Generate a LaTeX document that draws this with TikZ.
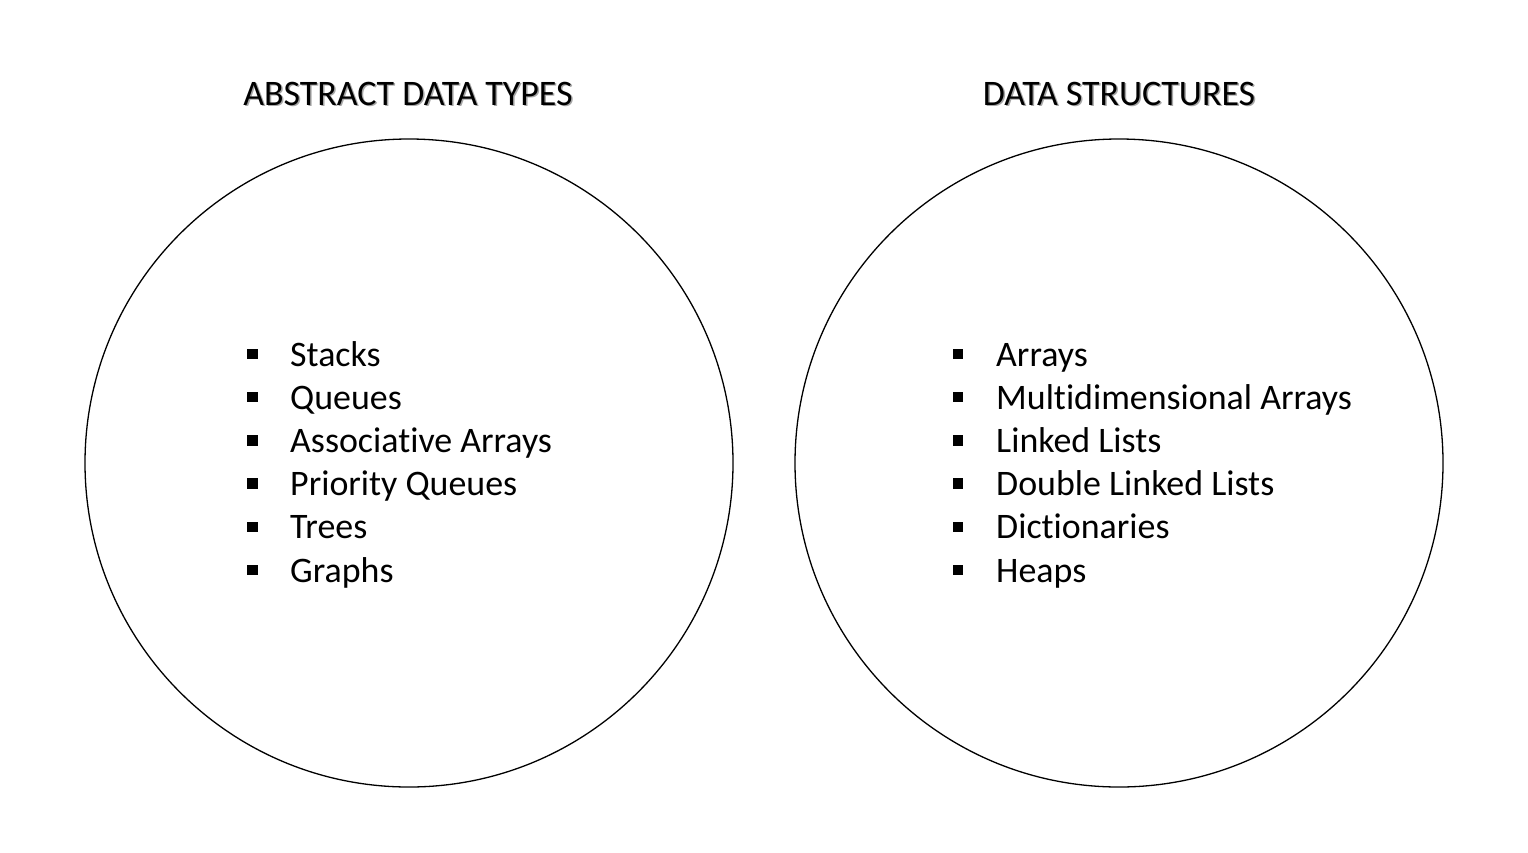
\documentclass[tikz,border=0pt]{standalone}
\usepackage{fontspec}
\setmainfont[Ligatures=NoCommon]{Carlito}
\begin{document}
\begin{tikzpicture}[x=1pt,y=-1pt,
  setcircle/.style={draw=black,line width=1.3pt,circle,minimum size=648pt,inner sep=0pt},
  title/.style={font=\fontsize{35.9}{40}\selectfont,anchor=base,inner sep=0pt},
  titleshadow/.style={title,text=black!35},
  item/.style={font=\fontsize{35.9}{42}\selectfont,anchor=base west,inner sep=0pt},
  bullet/.style={fill=black,draw=none,rectangle,minimum size=10.5pt,inner sep=0pt}]
  \useasboundingbox (0,0) rectangle (1528,852);

  % the two sets
  \node[setcircle] (adt) at (409,463) {};
  \node[setcircle] (ds) at (1119,463) {};

  % headings with a soft drop shadow
  \node[titleshadow] (adtshadow) at (409.5,106.5) {ABSTRACT DATA TYPES};
  \node[title] (adttitle) at (408,105) {ABSTRACT DATA TYPES};
  \node[titleshadow] (dsshadow) at (1120.5,106.5) {DATA STRUCTURES};
  \node[title] (dstitle) at (1119,105) {DATA STRUCTURES};

  % bulleted lists
  \foreach \txt [count=\i] in {Stacks,Queues,Associative Arrays,Priority Queues,Trees,Graphs} {
    \node[bullet] (adtb\i) at (252.5,{354+43.2*(\i-1)}) {};
    \node[item] (adti\i) at (290,{366+43.2*(\i-1)}) {\txt};
  }
  \foreach \txt [count=\i] in {Arrays,Multidimensional Arrays,Linked Lists,Double Linked Lists,Dictionaries,Heaps} {
    \node[bullet] (dsb\i) at (958,{354+43.2*(\i-1)}) {};
    \node[item] (dsi\i) at (996,{366+43.2*(\i-1)}) {\txt};
  }
\end{tikzpicture}
\end{document}
